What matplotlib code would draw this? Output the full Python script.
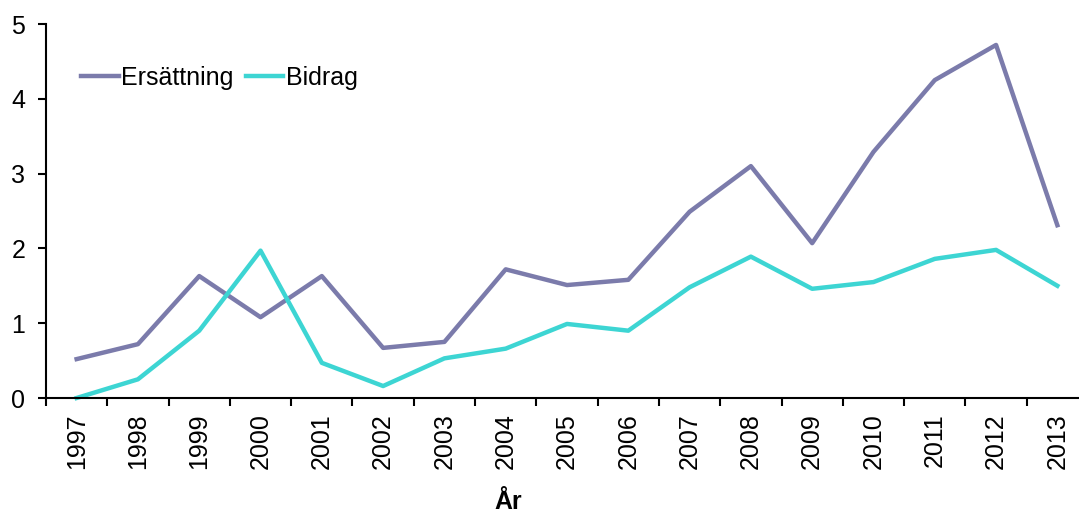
import matplotlib.pyplot as plt
import numpy as np

plt.rcParams['font.family'] = ['Liberation Sans', 'DejaVu Sans']

# Data
years = ['1997', '1998', '1999', '2000', '2001', '2002', '2003', '2004', '2005',
         '2006', '2007', '2008', '2009', '2010', '2011', '2012', '2013']
ersattning = [0.52, 0.72, 1.63, 1.08, 1.63, 0.67, 0.75, 1.72, 1.51,
              1.58, 2.49, 3.10, 2.07, 3.29, 4.25, 4.72, 2.31]
bidrag = [0.00, 0.25, 0.90, 1.97, 0.47, 0.16, 0.53, 0.66, 0.99,
          0.90, 1.48, 1.89, 1.46, 1.55, 1.86, 1.98, 1.50]

W, H = 1079, 515
fig = plt.figure(figsize=(W / 100, H / 100), dpi=100)
# axes spans x 46..1088 px (clipped at right edge), y 24..398 px
ax = fig.add_axes([46 / W, 1 - 398 / H, (1088 - 46) / W, (398 - 24) / H])

x = np.arange(len(years))
ax.plot(x, ersattning, color='#7b7bab', linewidth=3.2, label='Ersättning', clip_on=False)
ax.plot(x, bidrag, color='#3dd5d3', linewidth=3.2, label='Bidrag', clip_on=False)

ax.set_xlim(-0.5, len(years) - 0.5)
ax.set_ylim(0, 5)
ax.set_yticks(range(6))

ax.set_xticks(x)
ax.set_xticklabels(years, rotation=90, fontsize=18)
ax.set_xticks(np.arange(-0.5, len(years), 1), minor=True)
ax.tick_params(axis='x', which='major', length=0, pad=11)
ax.tick_params(axis='x', which='minor', length=6, width=1.5, direction='out')
ax.tick_params(axis='y', labelsize=18, length=6, width=1.5, direction='out', pad=9)

for s in ['top', 'right']:
    ax.spines[s].set_visible(False)
for s in ['left', 'bottom']:
    ax.spines[s].set_linewidth(1.5)

ax.legend(loc='center left', bbox_to_anchor=(81 / W, 1 - 78 / H),
          bbox_transform=fig.transFigure, ncol=2, frameon=False, fontsize=18,
          handlelength=1.5, handletextpad=0.1, columnspacing=0.5, borderpad=0,
          borderaxespad=0)

fig.text(508 / W, 1 - 502 / H, 'År', fontsize=18, fontweight='bold',
         ha='center', va='center')

fig.savefig('out.png', dpi=100)
